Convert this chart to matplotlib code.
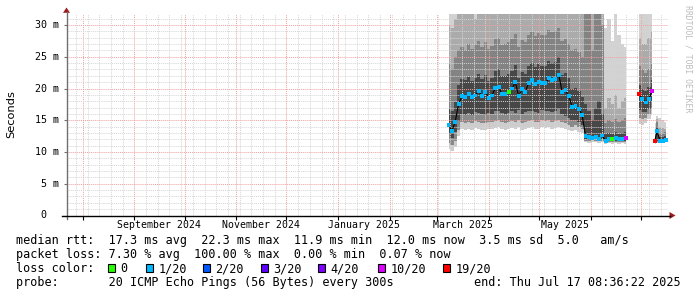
import datetime as dt
import numpy as np
import matplotlib
matplotlib.use("Agg")
import matplotlib.pyplot as plt
import matplotlib.dates as mdates
import matplotlib.transforms as mtransforms
from matplotlib.ticker import MultipleLocator
from matplotlib.patches import Rectangle, Polygon
from matplotlib.lines import Line2D

# ------------------------------------------------------------------ data
base_date = dt.datetime(2025, 3, 1)
end_time = dt.datetime(2025, 7, 17, 8, 36, 22)
span_days = 360

# day offsets from 1 March 2025
days = [7, 9, 11, 13, 15, 17, 19, 21, 23, 25, 27, 29, 31, 33, 35, 37, 39, 41, 43, 45,
        47, 49, 51, 53, 55, 57, 59, 61, 63, 65, 67, 69, 71, 73, 75, 77, 79, 81, 83, 85,
        87, 89, 91, 93, 95, 97, 99, 101, 103, 105, 107, 109, 111, 113,
        121, 123, 125, 127, 128.8,
        130.4, 131.8, 133.5, 135.3, 137.1]
segment = [0] * 54 + [1] * 5 + [2] * 5

median_ms = [14.3, 13.3, 14.8, 17.5, 18.8, 18.7, 19.1, 18.6, 18.9, 19.6, 18.8, 19.5, 18.5, 18.9,
             20.1, 20.3, 19.1, 19.2, 19.5, 20.0, 21.0, 18.8, 19.9, 19.5, 20.9, 21.3, 20.7, 21.1,
             20.9, 20.8, 21.7, 21.3, 21.5, 22.2, 19.4, 19.7, 18.8, 17.1, 17.3, 16.8, 15.8, 12.5,
             12.3, 12.2, 12.3, 12.1, 12.6, 11.7, 12.0, 12.1, 12.2, 12.0, 12.1, 12.2,
             19.1, 18.4, 17.8, 18.4, 19.6,
             11.7, 13.3, 11.8, 11.8, 11.9]

loss = [1] * 18 + [0] + [1] * 30 + [0] + [1, 1, 1, 10] + [19, 1, 1, 1, 10] + [19, 1, 1, 1, 1]

smoke_lo = [10.4, 10.2, 10.8, 12.5,
            13.6, 13.4, 13.7, 13.5, 13.8, 13.6, 13.5, 13.4, 13.7, 13.6,
            13.8, 13.9, 13.6, 13.5, 13.7, 13.8, 13.6, 14.0, 13.5, 13.7,
            13.8, 13.9, 13.7, 13.6, 14.0, 13.8, 13.9, 13.7, 13.8, 14.0,
            13.8, 13.6, 13.4, 13.3, 13.5, 13.2, 13.0,
            11.5, 11.4, 11.6, 11.5, 11.4, 11.5,
            11.3, 11.4, 11.3, 11.4, 11.3, 11.4, 11.3,
            14.4, 14.3, 14.6, 15.2, 15.8,
            11.3, 11.4, 11.4, 11.4, 11.5]
smoke_p10 = [11.4, 11.1, 11.8, 13.4,
             14.7, 14.5, 14.8, 14.6, 14.9, 14.7, 14.6, 14.5, 14.8, 14.7,
             14.9, 15.0, 14.7, 14.6, 14.8, 14.9, 14.7, 15.1, 14.6, 14.8,
             14.9, 15.0, 14.8, 14.7, 15.1, 14.9, 15.0, 14.8, 14.9, 15.1,
             14.7, 14.5, 14.2, 14.0, 14.2, 13.9, 13.6,
             11.8, 11.7, 11.9, 11.8, 11.7, 11.8,
             11.5, 11.6, 11.5, 11.6, 11.5, 11.6, 11.5,
             15.4, 15.2, 15.4, 16.0, 16.8,
             11.5, 11.6, 11.6, 11.6, 11.7]
smoke_p25 = [12.8, 12.2, 13.1, 14.9,
             16.0, 15.8, 16.2, 15.9, 16.3, 16.1, 16.0, 15.8, 16.2, 16.0,
             16.4, 16.5, 16.1, 16.0, 16.2, 16.4, 16.1, 16.6, 16.0, 16.3,
             16.4, 16.5, 16.3, 16.2, 16.6, 16.4, 16.5, 16.3, 16.4, 16.7,
             16.0, 15.7, 15.3, 15.0, 15.1, 14.8, 14.3,
             12.0, 11.9, 12.0, 12.0, 11.9, 12.0,
             11.7, 11.8, 11.7, 11.8, 11.7, 11.8, 11.7,
             16.6, 16.3, 16.3, 16.8, 17.8,
             11.6, 11.8, 11.7, 11.7, 11.8]
smoke_p75 = [17.0, 16.5, 17.8, 20.5,
             21.5, 21.3, 21.8, 21.2, 21.6, 22.3, 21.5, 22.2, 21.2, 21.6,
             22.8, 23.0, 21.9, 22.0, 22.3, 22.8, 23.7, 21.6, 22.6, 22.3,
             23.6, 24.0, 23.4, 23.8, 23.6, 23.5, 24.4, 24.0, 24.2, 24.9,
             22.2, 22.4, 21.6, 19.9, 20.1, 19.6, 18.6,
             17.5, 16.5, 15.0, 17.0, 18.0, 16.0,
             12.8, 13.0, 12.9, 13.1, 12.9, 13.0, 13.1,
             20.6, 20.0, 19.6, 20.2, 21.3,
             12.3, 14.0, 12.4, 12.3, 12.5]
smoke_p90 = [24.0, 23.0, 25.0, 26.0,
             26.5, 26.0, 27.0, 26.3, 26.8, 27.5, 26.6, 27.3, 26.2, 26.7,
             27.8, 28.0, 26.9, 27.0, 27.3, 27.8, 28.6, 26.6, 27.6, 27.3,
             28.5, 28.9, 28.3, 28.7, 28.5, 28.4, 29.2, 28.9, 29.0, 29.6,
             27.5, 27.8, 27.0, 26.0, 26.3, 25.8, 25.0,
             45.0, 32.0, 26.0, 45.0, 45.0, 30.0,
             14.5, 15.0, 14.8, 15.2, 14.7, 15.0, 15.3,
             23.5, 23.0, 22.5, 23.0, 24.0,
             12.8, 14.8, 13.0, 13.0, 13.1]
smoke_p95 = [30.0, 29.5, 31.0, 45.0,
             45.0, 45.0, 45.0, 45.0, 31.0, 45.0, 45.0, 45.0, 45.0, 45.0,
             45.0, 45.0, 45.0, 45.0, 45.0, 45.0, 45.0, 45.0, 45.0, 45.0,
             45.0, 45.0, 45.0, 45.0, 45.0, 45.0, 45.0, 45.0, 45.0, 45.0,
             45.0, 45.0, 45.0, 45.0, 45.0, 45.0, 45.0,
             45.0, 45.0, 45.0, 45.0, 45.0, 45.0,
             17.0, 18.5, 17.5, 19.0, 17.0, 18.0, 18.5,
             28.0, 27.0, 27.0, 28.0, 29.0,
             13.5, 15.2, 14.0, 13.8, 13.6]
smoke_hi = [45.0] * 47 + [29.5, 31.0, 27.5, 45.0, 28.5, 27.0, 26.5] + [45.0] * 5 + \
           [14.6, 15.6, 15.3, 15.0, 14.8]

label_months = [(2024, 9), (2024, 11), (2025, 1), (2025, 3), (2025, 5)]
month_labels = ["September 2024", "November 2024", "January 2025", "March 2025", "May 2025"]
ytick_values = [0, 5, 10, 15, 20, 25, 30]
ytick_labels = [" 0", " 5 m", "10 m", "15 m", "20 m", "25 m", "30 m"]

loss_levels = [0, 1, 2, 3, 4, 10, 19]
loss_names = ["0", "1/20", "2/20", "3/20", "4/20", "10/20", "19/20"]
loss_colors = ["#26ff00", "#00b8ff", "#0059ff", "#5e00ff", "#7e00ff", "#dd00ff", "#ff0000"]

line_rtt = "median rtt:  17.3 ms avg  22.3 ms max  11.9 ms min  12.0 ms now  3.5 ms sd  5.0   am/s"
line_loss = "packet loss: 7.30 % avg  100.00 % max  0.00 % min  0.07 % now"
line_color = "loss color:"
line_probe = "probe:       20 ICMP Echo Pings (56 Bytes) every 300s"
line_end = "end: Thu Jul 17 08:36:22 2025"

# ------------------------------------------------------------------ figure
W, H = 697, 297
MONO = "DejaVu Sans Mono"
fig = plt.figure(figsize=(W / 100, H / 100), dpi=100)
fig.patch.set_facecolor("white")


def fx(x):
    return x / W


def fy(y):
    return 1 - y / H


L, R, T, B = 66.5, 668, 14, 215.5
ax = fig.add_axes([fx(L), fy(B), (R - L) / W, (B - T) / H])
ax.set_facecolor("white")

x_all = mdates.date2num([base_date + dt.timedelta(days=d) for d in days])
seg = np.asarray(segment)
start_time = end_time - dt.timedelta(days=span_days)
ax.set_xlim(mdates.date2num(start_time), mdates.date2num(end_time))
ax.set_ylim(0, 31.74)

bands = [(smoke_lo, smoke_p10, "#cdcdcd"),
         (smoke_p10, smoke_p25, "#8a8a8a"),
         (smoke_p25, smoke_p75, "#474747"),
         (smoke_p75, smoke_p90, "#838383"),
         (smoke_p90, smoke_p95, "#ababab"),
         (smoke_p95, smoke_hi, "#d2d2d2")]
med = np.asarray(median_ms, float)
for s in np.unique(seg):
    m = seg == s
    xs = x_all[m]
    for lo, hi, c in bands:
        ax.fill_between(xs, np.asarray(lo, float)[m], np.asarray(hi, float)[m],
                        step="mid", color=c, lw=0, antialiased=False, zorder=1)
    ax.plot(xs, med[m], color="black", lw=0.8, zorder=3)

cmap = dict(zip(loss_levels, loss_colors))
ax.scatter(x_all, med, marker="s", s=8, c=[cmap[v] for v in loss],
           linewidths=0, zorder=4)

# grid
ax.xaxis.set_major_locator(mdates.MonthLocator())
ax.xaxis.set_minor_locator(mdates.WeekdayLocator(byweekday=mdates.SU))
ax.yaxis.set_major_locator(MultipleLocator(5))
ax.yaxis.set_minor_locator(MultipleLocator(1))
ax.grid(True, which="minor", color="#d6d6d6", linestyle=(0, (1, 1)), linewidth=0.7)
ax.grid(True, which="major", color="#f0a0a0", linestyle=(0, (1, 1)), linewidth=0.7)
ax.set_axisbelow(False)
ax.tick_params(which="both", labelbottom=False, labelleft=False)
ax.tick_params(which="minor", length=0)
ax.tick_params(axis="x", which="major", direction="out", length=3, width=0.8, color="black")
ax.tick_params(axis="y", which="major", direction="out", length=2, width=0.8, color="#707070")
for sp in ax.spines.values():
    sp.set_visible(False)

# axis lines with arrows
fig.add_artist(Line2D([fx(66.5), fx(66.5)], [fy(218.5), fy(12)], color="#707070", lw=1.0))
fig.add_artist(Line2D([fx(62), fx(670)], [fy(215.5), fy(215.5)], color="black", lw=1.0))
arrow_c = "#9b1c1c"
fig.add_artist(Polygon([[fx(63), fy(12.8)], [fx(70), fy(12.8)], [fx(66.5), fy(7.5)]],
                       closed=True, facecolor=arrow_c, edgecolor="none", transform=fig.transFigure))
fig.add_artist(Polygon([[fx(669.5), fy(212)], [fx(669.5), fy(219)], [fx(675.5), fy(215.5)]],
                       closed=True, facecolor=arrow_c, edgecolor="none", transform=fig.transFigure))

# x labels (centred in their month)
xtr = mtransforms.blended_transform_factory(ax.transData, fig.transFigure)
for (yr, mo), lab in zip(label_months, month_labels):
    a = dt.datetime(yr, mo, 1)
    b = dt.datetime(yr + (mo // 12), mo % 12 + 1, 1)
    xm = (mdates.date2num(a) + mdates.date2num(b)) / 2
    ax.text(xm, fy(224.5), lab, transform=xtr, ha="center", va="center",
            fontsize=7.1, family=MONO, color="black")

# y labels
ytr = mtransforms.blended_transform_factory(fig.transFigure, ax.transData)
for v, lab in zip(ytick_values, ytick_labels):
    ax.text(fx(35.3), v, lab, transform=ytr, ha="left", va="center",
            fontsize=7.2, family=MONO, color="black")

fig.text(fx(11), fy(114), "Seconds", rotation=90, ha="center", va="center",
         fontsize=8.2, family="DejaVu Sans", color="black")
fig.text(fx(688.3), fy(5), "RRDTOOL / TOBI OETIKER", rotation=270, ha="center", va="top",
         fontsize=5.9, family=MONO, color="#bdbdbd")

# legend / stats
FS = 8.5
fig.text(fx(15.5), fy(244.3), line_rtt, fontsize=FS, family=MONO, va="baseline")
fig.text(fx(15.5), fy(258.2), line_loss, fontsize=FS, family=MONO, va="baseline")
fig.text(fx(15.5), fy(272.1), line_color, fontsize=FS, family=MONO, va="baseline")
fig.text(fx(15.5), fy(286.0), line_probe, fontsize=FS, family=MONO, va="baseline")
fig.text(fx(681), fy(286.0), line_end, fontsize=FS, family=MONO, va="baseline", ha="right")

box_x = [108, 145.7, 203, 261, 318.3, 377.7, 442.7]
for bx, name, col in zip(box_x, loss_names, loss_colors):
    fig.add_artist(Rectangle((fx(bx), fy(271.8)), 7 / W, 7.4 / H, transform=fig.transFigure,
                             facecolor=col, edgecolor="black", lw=0.8))
    fig.text(fx(bx + 12.5), fy(272.1), name, fontsize=FS, family=MONO, va="baseline")

fig.savefig("out.png", dpi=100, facecolor="white")
